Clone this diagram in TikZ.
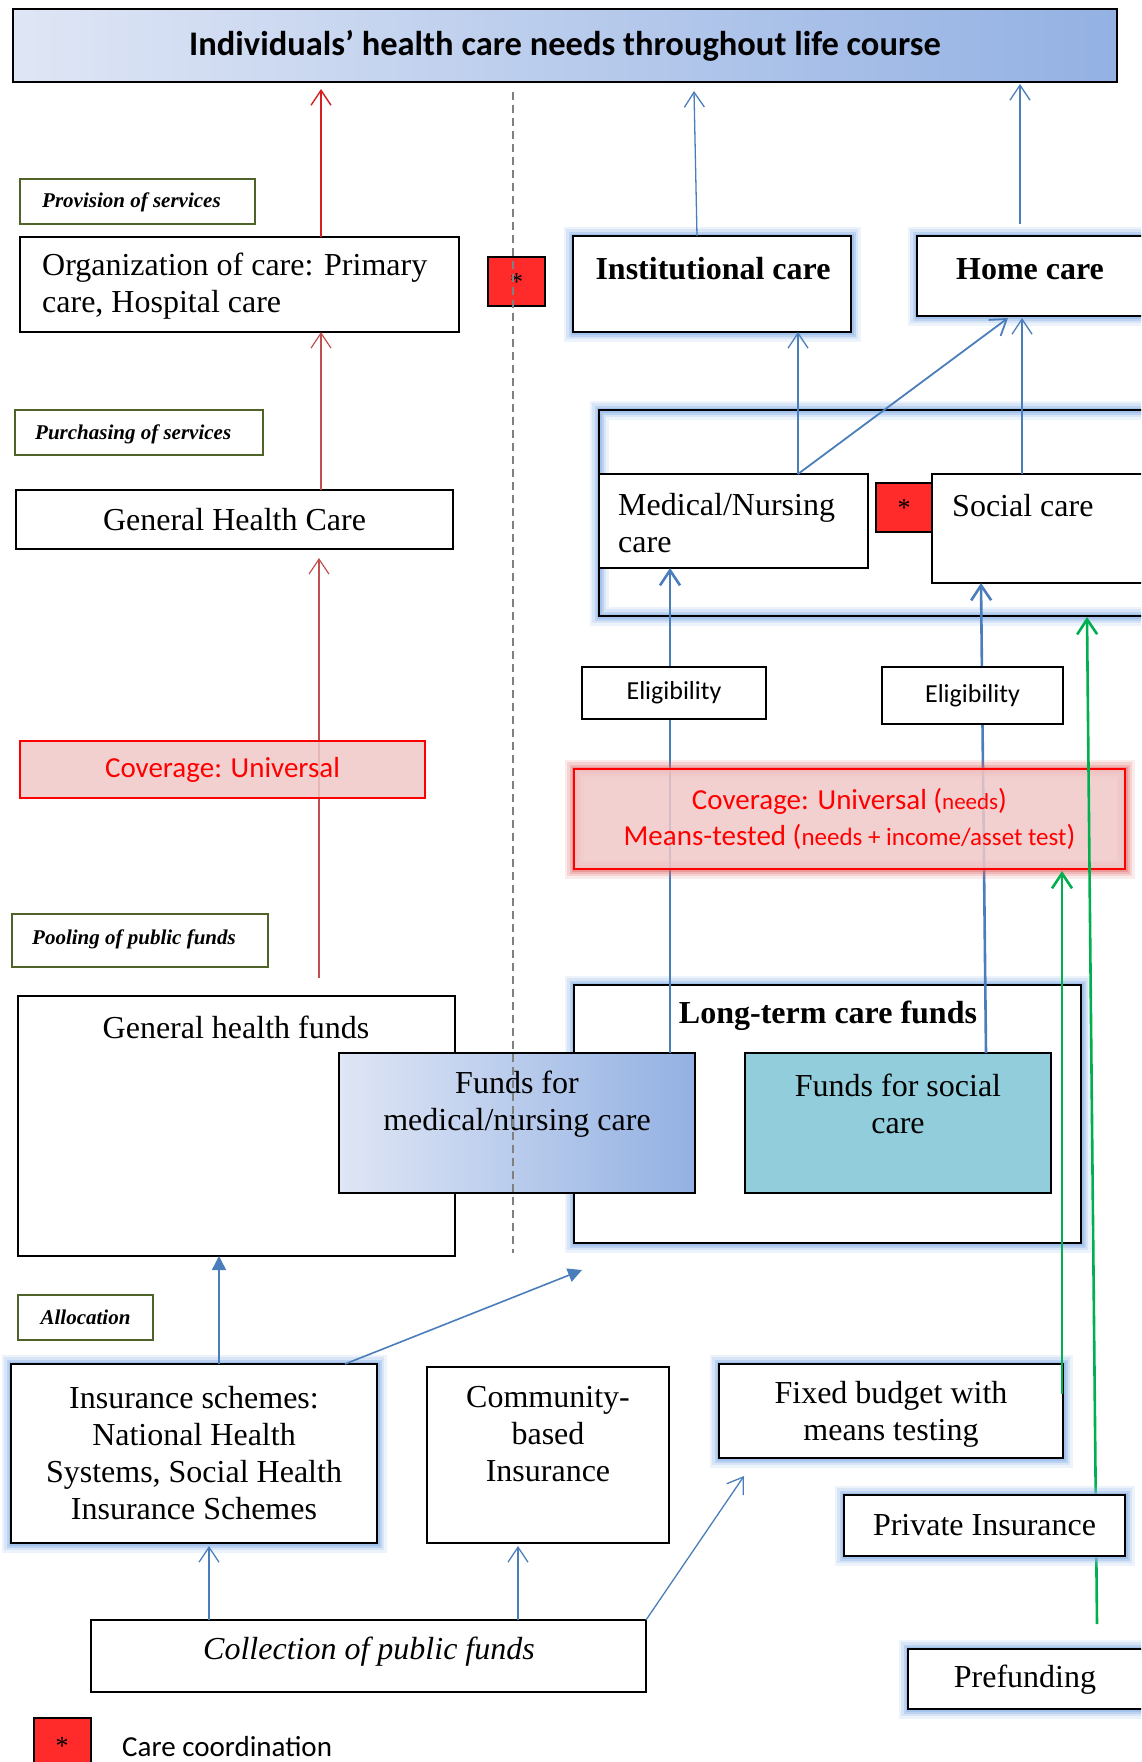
\documentclass[tikz,border=0pt]{standalone}
\usepackage{fontspec}
\setmainfont{Liberation Serif}
\newfontfamily\calib{Carlito}
\usetikzlibrary{arrows.meta}
\definecolor{glowblue}{HTML}{8FB6E8}
\definecolor{glowred}{HTML}{E06060}
\definecolor{arrowblue}{HTML}{4A7EBB}
\definecolor{arrowred}{HTML}{C0504D}
\definecolor{brightred}{HTML}{D42020}
\definecolor{greenline}{HTML}{00B050}
\definecolor{olivec}{HTML}{4F6228}
\definecolor{starred}{HTML}{FF2A2A}
\definecolor{covfill}{HTML}{F0C8C8}
\definecolor{socfill}{HTML}{92CDDC}
\definecolor{gradL}{HTML}{DFE6F5}
\definecolor{gradR}{HTML}{93B1E3}
\definecolor{dashgray}{HTML}{808080}
\newcommand{\tms}{\fontsize{32}{37}\selectfont}
\newcommand{\lblf}{\fontsize{21}{25}\selectfont\bfseries\itshape}
\newcommand{\starsym}{\raisebox{-0.3em}{*}}
\begin{document}
\begin{tikzpicture}[x=1pt,y=-1pt,
  box/.style={draw=black,line width=1.6pt,fill=white,inner sep=0pt,outer sep=0pt,anchor=north west,font=\tms,align=center},
  lbl/.style={draw=olivec,line width=1.5pt,fill=white,inner sep=0pt,outer sep=0pt,anchor=north west,font=\lblf},
  glow/.style={preaction={draw=glowblue,line width=19pt,opacity=0.16},preaction={draw=glowblue,line width=14pt,opacity=0.24},preaction={draw=glowblue,line width=9pt,opacity=0.38},preaction={draw=glowblue,line width=5pt,opacity=0.55}},
  redglow/.style={preaction={draw=glowred,line width=19pt,opacity=0.12},preaction={draw=glowred,line width=14pt,opacity=0.18},preaction={draw=glowred,line width=9pt,opacity=0.25},preaction={draw=glowred,line width=5pt,opacity=0.35}},
  starbox/.style={draw=black,line width=1.5pt,fill=starred,inner sep=0pt,outer sep=0pt,anchor=north west,font=\fontsize{26}{26}\selectfont},
  txt/.style={inner sep=0pt,font=\tms,align=center},
  covbox/.style={draw=red,line width=2pt,fill=covfill,fill opacity=0.85,text opacity=1,inner sep=0pt,outer sep=0pt,anchor=north west,text=red,align=center},
  eligbox/.style={draw=black,line width=1.6pt,fill=white,inner sep=0pt,outer sep=0pt,anchor=north west,font=\calib\fontsize{26}{30}\selectfont},
  barb/.style={-{Straight Barb[length=15pt,width=20pt]}},
  arB/.style={draw=arrowblue,line width=1.3pt,barb},
  arBt/.style={draw=arrowblue,line width=2.6pt,barb},
  arR/.style={draw=brightred,line width=1.4pt,barb},
  arRl/.style={draw=arrowred,line width=1.2pt,barb},
  arG/.style={draw=greenline,line width=2.6pt,barb},
  arF/.style={draw=arrowblue,line width=1.6pt,-{Triangle[length=14pt,width=14pt]}}
]
\useasboundingbox (0,0) rectangle (1141,1762);
\clip (0,0) rectangle (1141,1762);

% banner
\node[draw=black,line width=2pt,left color=gradL,right color=gradR,inner sep=0pt,outer sep=0pt,anchor=north west,
  minimum width=1104pt,minimum height=73pt,font=\calib\bfseries\fontsize{34.5}{38}\selectfont]
  (banner) at (13,9) {Individuals’ health care needs throughout life course};

% left column
\node[lbl,minimum width=235pt,minimum height=45pt] (prov) at (20,179) {};
\node[inner sep=0pt,font=\lblf,anchor=west] (provT) at (42,202) {Provision of services};
\node[box,minimum width=439pt,minimum height=95pt] (org) at (20,237) {};
\node[txt,anchor=west,align=left] (orgT) at (42,286) {Organization of care: Primary\\care, Hospital care};
\node[lbl,minimum width=248pt,minimum height=45pt] (purch) at (15,410) {};
\node[inner sep=0pt,font=\lblf,anchor=west] (purchT) at (35,434) {Purchasing of services};
\node[box,minimum width=437pt,minimum height=59pt] (ghc) at (16,490) {General Health Care};
\node[lbl,minimum width=256pt,minimum height=53pt] (pool) at (12,914) {};
\node[inner sep=0pt,font=\lblf,anchor=west] (poolT) at (32,939) {Pooling of public funds};
\node[box,minimum width=437pt,minimum height=260pt] (ghf) at (18,996) {};
\node[txt] (ghfT) at (236,1027) {General health funds};

% right column top
\node[starbox,minimum width=57pt,minimum height=49pt] (star1) at (488,257) {\starsym};
\node[box,glow,minimum width=278pt,minimum height=96pt] (inst) at (573,236) {};
\node[txt,font=\tms\bfseries] (instT) at (713,269) {Institutional care};
\node[box,glow,minimum width=260pt,minimum height=80pt] (home) at (917,236) {};
\node[txt,font=\tms\bfseries] (homeT) at (1030,269) {Home care};

\node[draw=black,line width=2.2pt,glow,inner sep=0pt,outer sep=0pt,anchor=north west,minimum width=560pt,minimum height=206pt] (ltc) at (599,410) {};
\node[box,minimum width=269pt,minimum height=94pt] (med) at (599,474) {};
\node[txt,anchor=west,align=left] (medT) at (618,523) {Medical/Nursing\\care};
\node[starbox,minimum width=56pt,minimum height=49pt] (star2) at (876,483) {\starsym};
\node[box,minimum width=230pt,minimum height=109pt] (soc) at (932,474) {};
\node[txt,anchor=west] (socT) at (952,506) {Social care};

% long-term care funds
\node[draw=black,line width=2.2pt,glow,fill=white,inner sep=0pt,outer sep=0pt,anchor=north west,minimum width=507pt,minimum height=258pt] (ltcf) at (574,985) {};
\node[txt,font=\tms\bfseries] (ltcfT) at (828,1016) {Long-term care funds};
\node[box,left color=gradL,right color=gradR,minimum width=356pt,minimum height=140pt] (fmed) at (339,1053) {};
\node[txt] (fmedT) at (517,1104) {Funds for\\medical/nursing care};
\node[box,fill=socfill,minimum width=306pt,minimum height=140pt] (fsoc) at (745,1053) {};
\node[txt] (fsocT) at (898,1104) {Funds for social\\care};

% bottom
\node[lbl,minimum width=135pt,minimum height=45pt] (alloc) at (18,1295) {Allocation};
\node[box,glow,minimum width=366pt,minimum height=179pt] (ins) at (11,1364) {Insurance schemes:\\National Health\\Systems, Social Health\\Insurance Schemes};
\node[box,minimum width=242pt,minimum height=176pt] (comm) at (427,1367) {};
\node[txt] (commT) at (548,1434) {Community-\\based\\Insurance};
\node[box,glow,minimum width=344pt,minimum height=94pt] (fixed) at (719,1364) {};
\node[txt] (fixedT) at (891,1414) {Fixed budget with\\means testing};
\node[box,minimum width=555pt,minimum height=72pt] (coll) at (91,1620) {};
\node[txt,font=\tms\itshape] (collT) at (369,1652) {Collection of public funds};
\node[box,glow,minimum width=260pt,minimum height=60pt] (pref) at (908,1649) {};
\node[txt] (prefT) at (1025,1680) {Prefunding};

% free ends
\coordinate (cstart) at (319,978);
\coordinate (hstart) at (1020,224);
\coordinate (gk) at (1062,1394);
\coordinate (gl) at (1097,1624);
\coordinate (nend) at (582,1270);
\coordinate (qend) at (744,1476);

% dashed divider
\draw[dashgray,line width=1.5pt,dash pattern=on 8pt off 5pt] (513,92) coordinate (dtop) -- (513,1253) coordinate (dbot);

% connectors
\draw[arR] (org.north -| 321,0) -- ([yshift=-7pt]banner.south -| 321,0);
\draw[arRl] (ghc.north -| 321,0) -- (org.south -| 321,0);
\draw[arRl] (cstart) -- ([yshift=-9pt]ghc.south -| 319,0);
\draw[arB] (inst.north -| 697,0) -- ([yshift=-9pt]banner.south -| 694,0);
\draw[arB] (hstart) -- ([yshift=-2pt]banner.south -| 1020,0);
\draw[arB] (med.north -| 798,0) -- (inst.south -| 798,0);
\draw[arB,line width=1.8pt] (med.north -| 798,0) -- ([yshift=-2pt]home.south -| 1008,0);
\draw[arB] (soc.north -| 1022,0) -- ([yshift=-2pt]home.south -| 1022,0);
\draw[arBt] (fmed.north -| 670,0) -- (med.south -| 670,0);
\draw[arBt] (fsoc.north -| 986,0) -- (soc.south -| 981,0);
\draw[arF] (ins.north -| 219,0) -- (ghf.south -| 219,0);
\draw[arF] (ins.north -| 345,0) -- (nend);
\draw[arB] (coll.north -| 209,0) -- ([yshift=-3pt]ins.south -| 209,0);
\draw[arB] (coll.north -| 518,0) -- ([yshift=-3pt]comm.south -| 518,0);
\draw[arB] (coll.north east) -- (qend);

% coverage boxes over the lines
\node[covbox,minimum width=405pt,minimum height=57pt,font=\calib\fontsize{29}{34}\selectfont] (cov1) at (20,741) {Coverage: Universal};
\node[covbox,redglow,minimum width=551pt,minimum height=100pt,font=\calib\fontsize{29}{36}\selectfont] (cov2) at (574,769)
  {Coverage: Universal ({\fontsize{23}{23}\selectfont needs})\\Means-tested ({\fontsize{25}{25}\selectfont needs + income/asset test})};

% green lines
\draw[arG] (gk) -- ([yshift=-2pt]cov2.south -| 1062,0);
\draw[arG] (gl) -- ([yshift=-1pt]ltc.south -| 1087,0);

% boxes drawn over the lines
\node[eligbox,minimum width=184pt,minimum height=52pt] (elig1) at (582,667) {Eligibility};
\node[eligbox,minimum width=181pt,minimum height=57pt] (elig2) at (882,667) {Eligibility};
\node[box,glow,minimum width=281pt,minimum height=61pt] (priv) at (844,1495) {Private Insurance};

% legend
\node[starbox,minimum width=57pt,minimum height=60pt] (legstar) at (34,1718) {};
\node[inner sep=0pt,font=\fontsize{26}{26}\selectfont] (legstarT) at (62,1746) {\starsym};
\node[inner sep=0pt,anchor=west,font=\calib\fontsize{29}{32}\selectfont] (legT) at (122,1747) {Care coordination};
\end{tikzpicture}
\end{document}
